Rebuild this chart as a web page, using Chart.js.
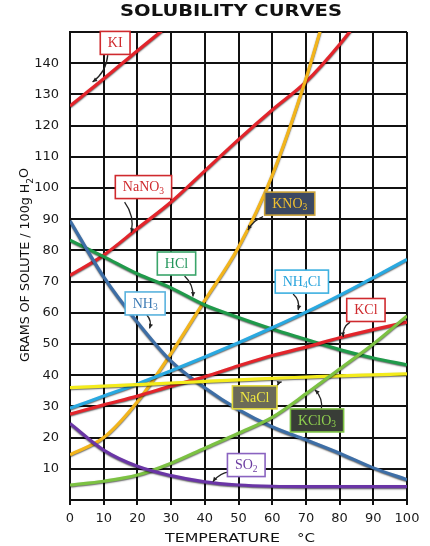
<!DOCTYPE html>
<html><head><meta charset="utf-8">
<script src="https://cdn.jsdelivr.net/npm/chart.js@4.4.1/dist/chart.umd.min.js"></script>
<style>html,body{margin:0;padding:0;background:#fff;}#wrap{width:430px;height:546px;}</style>
</head><body><div id="wrap"><canvas id="c" width="430" height="546"></canvas></div>
<script>
// ---- data ----
const temperatures = [0, 10, 20, 30, 40, 50, 60, 70, 80, 90, 100];
const yTickValues = [10, 20, 30, 40, 50, 60, 70, 80, 90, 100, 110, 120, 130, 140];
const xTickValues = [0, 10, 20, 30, 40, 50, 60, 70, 80, 90, 100];
const KI     = [126.3, 135, 144, 152.8];
const NaNO3  = [72, 78.5, 87, 95.5, 105.5, 115.5, 125, 134, 146, 160];
const KNO3   = [14.5, 20, 31.5, 47, 64, 81, 104, 135, 172];
const HCl    = [83.3, 78, 72.5, 68, 62.5, 58.5, 54.8, 51.5, 48.2, 45.5, 43.3];
const NH3    = [89.5, 71.5, 57, 44.5, 36, 29, 23.5, 19.3, 15, 10.3, 6.5];
const NH4Cl  = [29.4, 33.3, 37.2, 41.4, 45.8, 50.4, 55.2, 60.2, 65.6, 71.3, 77.1];
const KCl    = [27.5, 30.5, 33.3, 36.5, 39.5, 43, 46.3, 49, 52, 54.6, 57];
const NaCl   = [36, 36.5, 37, 37.5, 38, 38.5, 39, 39.4, 39.8, 40.1, 40.4];
const KClO3  = [4.8, 6, 8, 11.8, 16.6, 21.4, 26.5, 34, 42, 50, 59];
const SO2    = [24.5, 16, 10.8, 7.8, 5.8, 4.8, 4.4, 4.3, 4.3, 4.3, 4.3];

const seriesNames = ['SO2','KClO3','NaCl','KCl','NH4Cl','NH3','HCl','KNO3','NaNO3','KI'];
const seriesValues = [SO2, KClO3, NaCl, KCl, NH4Cl, NH3, HCl, KNO3, NaNO3, KI];
const seriesColors = ['#6a35a6','#7cc242','#f4ec1c','#e3242b','#29a9e1','#3d6ea6','#1f9a4a','#f3b51b','#e3242b','#e3242b'];

// label boxes (anchor in data units: [temperature, grams])
const labelDefs = [
  {parts:[['KI',0]], at:[13.4,146.5], from:[11.2,142.6], to:[6.7,134], bend:-7, fg:'#cf2a2e', bg:'#fff', bd:'#cf2a2e'},
  {parts:[['NaNO',0],['3',1]], at:[21.8,100.3], from:[16.2,95.5], to:[18.2,85.7], bend:-7, fg:'#cf2a2e', bg:'#fff', bd:'#cf2a2e'},
  {parts:[['KNO',0],['3',1]], at:[65.2,95], from:[57.3,90.8], to:[52.8,86.5], bend:4, fg:'#f0c030', bg:'#3b4862', bd:'#c9a23a'},
  {parts:[['HCl',0]], at:[31.6,75.8], from:[34,71.8], to:[36.5,65.2], bend:-5, fg:'#22955a', bg:'#fff', bd:'#3aa56a'},
  {parts:[['NH',0],['3',1]], at:[22.3,63], from:[22.8,59.3], to:[23.6,55], bend:-4, fg:'#3d7bb5', bg:'#fff', bd:'#5ab3de'},
  {parts:[['NH',0],['4',1],['Cl',0]], at:[68.8,70], from:[66.2,66], to:[67.7,60.9], bend:-5, fg:'#26a3dc', bg:'#fff', bd:'#3cb0e0'},
  {parts:[['KCl',0]], at:[87.8,60.9], from:[83.1,57], to:[81.1,52.3], bend:5, fg:'#cf2a2e', bg:'#fff', bd:'#cf2a2e'},
  {parts:[['NaCl',0]], at:[54.8,32.9], from:[61.3,35.8], to:[62.8,37.9], bend:-3, fg:'#f1e940', bg:'#6b6a58', bd:'#e2da3c'},
  {parts:[['KClO',0],['3',1]], at:[73.3,25.5], from:[74.6,29.1], to:[72.7,35.3], bend:5, fg:'#8fd04f', bg:'#393d37', bd:'#7cc242'},
  {parts:[['SO',0],['2',1]], at:[52.3,11.2], from:[47.4,9.1], to:[42.4,5.9], bend:4, fg:'#6a3aa0', bg:'#fff', bd:'#8a63c0'}
];

const datasets = seriesNames.map((n, i) => ({
  label: n,
  data: seriesValues[i].map((v, k) => ({x: temperatures[k], y: v})),
  borderColor: seriesColors[i],
  borderWidth: 3.2,
  pointRadius: 0,
  fill: false,
  cubicInterpolationMode: 'monotone',
  clip: 0
}));

function fitText(ctx, text, x, y, w) {
  const m = ctx.measureText(text).width;
  ctx.save();
  ctx.translate(x, y);
  ctx.scale(w / m, 1);
  ctx.fillText(text, 0, 0);
  ctx.restore();
}

const shadowPlugin = {
  id: 'shadow',
  beforeDatasetsDraw(chart) {
    const ctx = chart.ctx; ctx.save();
    ctx.shadowColor = 'rgba(0,0,0,0.6)'; ctx.shadowBlur = 1.5; ctx.shadowOffsetX = 0; ctx.shadowOffsetY = 1;
  },
  afterDatasetsDraw(chart) { chart.ctx.restore(); }
};

const textPlugin = {
  id: 'texts',
  afterDraw(chart) {
    const ctx = chart.ctx;
    const xs = chart.scales.x, ys = chart.scales.y;
    ctx.save();
    ctx.fillStyle = '#111';
    ctx.textBaseline = 'middle';
    ctx.textAlign = 'left';
    // main title
    ctx.font = 'bold 16px "DejaVu Sans"';
    fitText(ctx, 'SOLUBILITY CURVES', 120, 11.5, 222);
    // x title
    ctx.font = '13px "DejaVu Sans"';
    fitText(ctx, 'TEMPERATURE', 165, 539, 115);
    fitText(ctx, '°C', 297, 539, 18);
    // y title (rotated)
    ctx.save();
    ctx.translate(26, 362);
    ctx.rotate(-Math.PI / 2);
    ctx.font = '12.5px "DejaVu Sans"';
    const main = 'GRAMS OF SOLUTE / 100g H';
    const mw = ctx.measureText(main).width;
    ctx.font = '9px "DejaVu Sans"';
    const sw = ctx.measureText('2').width;
    ctx.font = '12.5px "DejaVu Sans"';
    const ow = ctx.measureText('O').width;
    const sc = 194 / (mw + sw + ow);
    ctx.scale(sc, 1);
    ctx.fillText(main, 0, 0);
    ctx.font = '9px "DejaVu Sans"';
    ctx.fillText('2', mw, 5);
    ctx.font = '12.5px "DejaVu Sans"';
    ctx.fillText('O', mw + sw, -1);
    ctx.restore();

    // label boxes and arrows
    labelDefs.forEach(L => {
      const sx = xs.getPixelForValue(L.from[0]), sy = ys.getPixelForValue(L.from[1]);
      const ex = xs.getPixelForValue(L.to[0]), ey = ys.getPixelForValue(L.to[1]);
      const mx = (sx + ex) / 2, my = (sy + ey) / 2;
      const dx = ex - sx, dy = ey - sy, len = Math.hypot(dx, dy) || 1;
      const cx = mx + (-dy / len) * L.bend, cy = my + (dx / len) * L.bend;
      ctx.strokeStyle = '#222'; ctx.lineWidth = 1.3;
      ctx.beginPath(); ctx.moveTo(sx, sy); ctx.quadraticCurveTo(cx, cy, ex, ey); ctx.stroke();
      const ang = Math.atan2(ey - cy, ex - cx);
      ctx.fillStyle = '#222';
      ctx.beginPath();
      ctx.moveTo(ex, ey);
      ctx.lineTo(ex - 5 * Math.cos(ang - 0.45), ey - 5 * Math.sin(ang - 0.45));
      ctx.lineTo(ex - 5 * Math.cos(ang + 0.45), ey - 5 * Math.sin(ang + 0.45));
      ctx.closePath(); ctx.fill();
      let tw = 0;
      L.parts.forEach(p => { ctx.font = p[1] ? '9.5px "Liberation Serif"' : '14px "Liberation Serif"'; tw += ctx.measureText(p[0]).width; });
      const bw = tw + 15, bh = 23;
      const bx = xs.getPixelForValue(L.at[0]) - bw / 2, by = ys.getPixelForValue(L.at[1]) - bh / 2;
      ctx.fillStyle = L.bg; ctx.fillRect(bx, by, bw, bh);
      ctx.strokeStyle = L.bd; ctx.lineWidth = 1.6; ctx.strokeRect(bx, by, bw, bh);
      ctx.fillStyle = L.fg;
      let tx = bx + 7.5;
      L.parts.forEach(p => {
        ctx.font = p[1] ? '9.5px "Liberation Serif"' : '14px "Liberation Serif"';
        ctx.fillText(p[0], tx, by + bh / 2 + (p[1] ? 4 : 0.5));
        tx += ctx.measureText(p[0]).width;
      });
    });
    ctx.restore();
  }
};

new Chart(document.getElementById('c'), {
  type: 'line',
  data: { datasets },
  options: {
    responsive: false,
    animation: false,
    devicePixelRatio: 1,
    layout: { padding: { top: 32, right: 23, left: 0, bottom: 0 } },
    plugins: { legend: { display: false }, tooltip: { enabled: false }, title: { display: false } },
    scales: {
      x: {
        type: 'linear', min: 0, max: 100,
        afterBuildTicks: s => { s.ticks = xTickValues.map(v => ({value: v})); },
        afterFit: s => { s.height = 46; },
        grid: { color: '#111', lineWidth: 2, tickLength: 5, drawTicks: true },
        border: { display: true, color: '#111', width: 2 },
        ticks: { color: '#1a1a1a', font: { family: 'DejaVu Sans', size: 13 }, padding: 6, maxRotation: 0, autoSkip: false }
      },
      y: {
        type: 'linear', min: 0, max: 150,
        afterBuildTicks: s => { s.ticks = [0].concat(yTickValues, [150]).map(v => ({value: v})); },
        afterFit: s => { s.width = 70; },
        grid: { color: '#111', lineWidth: 2, drawTicks: false },
        border: { display: true, color: '#111', width: 2 },
        ticks: { color: '#1a1a1a', font: { family: 'DejaVu Sans', size: 13 }, padding: 11,
          callback: v => yTickValues.includes(v) ? String(v) : '' }
      }
    }
  },
  plugins: [shadowPlugin, textPlugin]
});
</script>
</body></html>
